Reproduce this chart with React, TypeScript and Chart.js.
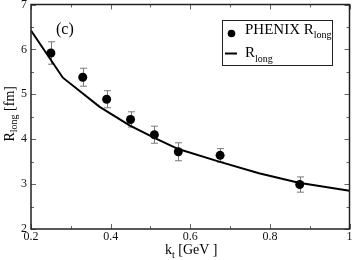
import React, { useEffect, useRef } from "react";
import { Chart, registerables } from "chart.js";

Chart.register(...registerables);

// Measured points (PHENIX)
const ktData = [0.25, 0.33, 0.39, 0.45, 0.51, 0.57, 0.675, 0.875];
const rlongData = [5.92, 5.38, 4.89, 4.44, 4.1, 3.72, 3.64, 2.99];
const rlongErr = [0.25, 0.2, 0.19, 0.17, 0.19, 0.2, 0.15, 0.17];

// Model curve
const modelKt = [0.2, 0.28, 0.3725, 0.4475, 0.51, 0.57, 0.6725, 0.7725, 0.8725, 1.0];
const modelR = [6.42, 5.37, 4.72, 4.31, 4.03, 3.78, 3.5, 3.24, 3.03, 2.85];

const xTicks = [0.2, 0.4, 0.6, 0.8, 1.0];
const xTickLabels = ["0.2", "0.4", "0.6", "0.8", "1"];
const xMinor = [0.3, 0.5, 0.7, 0.9];
const yTicks = [2, 3, 4, 5, 6, 7];
const yMinor = [2.5, 3.5, 4.5, 5.5, 6.5];

const FONT = '"Liberation Serif", "DejaVu Serif", "Times New Roman", serif';

function drawSub(
  ctx: CanvasRenderingContext2D,
  x: number,
  y: number,
  parts: { t: string; sub?: boolean }[],
  size: number,
  subSize: number,
  subDy: number,
  align: "left" | "center"
) {
  const widths = parts.map((p) => {
    ctx.font = `${p.sub ? subSize : size}px ${FONT}`;
    return ctx.measureText(p.t).width;
  });
  const total = widths.reduce((a, b) => a + b, 0);
  let cx = align === "center" ? x - total / 2 : x;
  ctx.textAlign = "left";
  ctx.textBaseline = "alphabetic";
  parts.forEach((p, i) => {
    ctx.font = `${p.sub ? subSize : size}px ${FONT}`;
    ctx.fillText(p.t, cx, p.sub ? y + subDy : y);
    cx += widths[i];
  });
}

const decorPlugin = {
  id: "decor",
  beforeDatasetsDraw(chart: any) {
    const ctx = chart.ctx as CanvasRenderingContext2D;
    const xs = chart.scales.x;
    const ys = chart.scales.y;
    ctx.save();
    ctx.strokeStyle = "#7a7a7a";
    ctx.lineWidth = 1;
    ktData.forEach((k, i) => {
      const px = Math.round(xs.getPixelForValue(k)) + 0.5;
      const top = ys.getPixelForValue(rlongData[i] + rlongErr[i]);
      const bot = ys.getPixelForValue(rlongData[i] - rlongErr[i]);
      ctx.beginPath();
      ctx.moveTo(px, top);
      ctx.lineTo(px, bot);
      ctx.moveTo(px - 3.5, top);
      ctx.lineTo(px + 3.5, top);
      ctx.moveTo(px - 3.5, bot);
      ctx.lineTo(px + 3.5, bot);
      ctx.stroke();
    });
    ctx.restore();
  },
  afterDraw(chart: any) {
    const ctx = chart.ctx as CanvasRenderingContext2D;
    const xs = chart.scales.x;
    const ys = chart.scales.y;
    const { left, right, top, bottom } = chart.chartArea;
    ctx.save();
    // ticks
    ctx.strokeStyle = "#666";
    ctx.lineWidth = 1;
    const major = 5;
    const minor = 3;
    ctx.beginPath();
    xTicks.forEach((v) => {
      const p = Math.round(xs.getPixelForValue(v)) + 0.5;
      ctx.moveTo(p, bottom);
      ctx.lineTo(p, bottom - major);
      ctx.moveTo(p, top);
      ctx.lineTo(p, top + major);
    });
    xMinor.forEach((v) => {
      const p = Math.round(xs.getPixelForValue(v)) + 0.5;
      ctx.moveTo(p, bottom);
      ctx.lineTo(p, bottom - minor);
      ctx.moveTo(p, top);
      ctx.lineTo(p, top + minor);
    });
    yTicks.forEach((v) => {
      const p = Math.round(ys.getPixelForValue(v)) + 0.5;
      ctx.moveTo(left, p);
      ctx.lineTo(left + major, p);
      ctx.moveTo(right, p);
      ctx.lineTo(right - major, p);
    });
    yMinor.forEach((v) => {
      const p = Math.round(ys.getPixelForValue(v)) + 0.5;
      ctx.moveTo(left, p);
      ctx.lineTo(left + minor, p);
      ctx.moveTo(right, p);
      ctx.lineTo(right - minor, p);
    });
    ctx.stroke();
    // frame
    ctx.strokeStyle = "#222";
    ctx.lineWidth = 1.5;
    ctx.strokeRect(left, top, right - left, bottom - top);

    // tick labels
    ctx.fillStyle = "#111";
    ctx.font = `12px ${FONT}`;
    ctx.textAlign = "center";
    ctx.textBaseline = "top";
    xTicks.forEach((v, i) => {
      ctx.fillText(xTickLabels[i], xs.getPixelForValue(v), bottom + 1.5);
    });
    ctx.textAlign = "right";
    ctx.textBaseline = "middle";
    yTicks.forEach((v) => {
      ctx.fillText(String(v), left - 4, ys.getPixelForValue(v));
    });

    // axis titles
    ctx.fillStyle = "#000";
    drawSub(ctx, (left + right) / 2 + 1, 254, [
      { t: "k" },
      { t: "t", sub: true },
      { t: " [GeV ]" },
    ], 14, 10, 3.5, "center");
    ctx.save();
    ctx.translate(13.5, (top + bottom) / 2 - 3);
    ctx.rotate(-Math.PI / 2);
    drawSub(ctx, 0, 0, [
      { t: "R" },
      { t: "long", sub: true },
      { t: " [fm]" },
    ], 14, 10, 3.5, "center");
    ctx.restore();

    // panel label
    ctx.font = `16px ${FONT}`;
    ctx.textAlign = "left";
    ctx.textBaseline = "alphabetic";
    ctx.fillText("(c)", 56, 34);

    // legend
    ctx.fillStyle = "#fff";
    ctx.fillRect(222, 20, 110, 45);
    ctx.strokeStyle = "#222";
    ctx.lineWidth = 1;
    ctx.strokeRect(222.5, 20.5, 110, 45);
    ctx.fillStyle = "#000";
    ctx.beginPath();
    ctx.arc(231.5, 33.5, 3.8, 0, Math.PI * 2);
    ctx.fill();
    ctx.strokeStyle = "#000";
    ctx.lineWidth = 2;
    ctx.beginPath();
    ctx.moveTo(225, 53.5);
    ctx.lineTo(237, 53.5);
    ctx.stroke();
    drawSub(ctx, 245, 33.5, [{ t: "PHENIX R" }, { t: "long", sub: true }], 15, 10, 4, "left");
    drawSub(ctx, 245, 57, [{ t: "R" }, { t: "long", sub: true }], 15, 10, 5, "left");
    ctx.restore();
  },
};

export default function App() {
  const ref = useRef<HTMLCanvasElement | null>(null);
  useEffect(() => {
    if (!ref.current) return;
    const chart = new Chart(ref.current, {
      type: "scatter",
      data: {
        datasets: [
          {
            label: "R_long",
            data: modelKt.map((k, i) => ({ x: k, y: modelR[i] })),
            showLine: true,
            borderColor: "#000",
            borderWidth: 2,
            pointRadius: 0,
            tension: 0,
            fill: false,
          },
          {
            label: "PHENIX R_long",
            data: ktData.map((k, i) => ({ x: k, y: rlongData[i] })),
            pointRadius: 4.5,
            pointBackgroundColor: "#000",
            pointBorderColor: "#000",
            pointBorderWidth: 0,
          },
        ],
      },
      options: {
        responsive: false,
        animation: false,
        layout: { padding: { left: 31, right: 3, top: 4, bottom: 31 } },
        plugins: { legend: { display: false }, tooltip: { enabled: false } },
        scales: {
          x: { type: "linear", min: 0.2, max: 1.0, display: false },
          y: { type: "linear", min: 2, max: 7, display: false },
        },
      },
      plugins: [decorPlugin],
    });
    return () => chart.destroy();
  }, []);
  return (
    <div style={{ position: "fixed", left: 0, top: 0, width: 354, height: 260, background: "#fff" }}>
      <canvas ref={ref} width={354} height={260} style={{ width: 354, height: 260 }} />
    </div>
  );
}
